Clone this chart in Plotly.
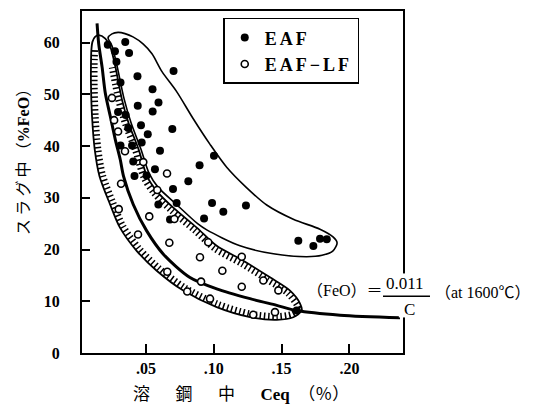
import math
import plotly.graph_objects as go

# ---------------- data ----------------
eaf_x = [0.0218, 0.0347, 0.0375, 0.0271, 0.0282, 0.0437, 0.0703, 0.0312, 0.0548, 0.0592,
         0.0439, 0.0549, 0.0294, 0.0350, 0.0369, 0.0463, 0.0513, 0.0694, 0.0312, 0.0397,
         0.0468, 0.0603, 0.1001, 0.0895, 0.0406, 0.0415, 0.0566, 0.0504, 0.0812, 0.0699,
         0.0591, 0.0726, 0.0987, 0.1237, 0.0928, 0.1070, 0.0677, 0.1623, 0.1734, 0.1783,
         0.1833, 0.1611]
eaf_y = [59.6, 60.1, 58.0, 58.3, 56.3, 53.5, 54.5, 52.3, 51.0, 48.4,
         47.8, 46.7, 46.6, 46.0, 43.5, 44.0, 42.3, 43.3, 40.1, 40.1,
         40.7, 39.1, 38.1, 36.3, 37.0, 34.2, 35.5, 34.3, 33.2, 31.7,
         28.7, 29.0, 29.0, 28.5, 26.0, 27.3, 25.8, 21.7, 20.7, 22.1,
         22.0, 8.2]

lf_x = [0.0249, 0.0265, 0.0294, 0.0345, 0.0480, 0.0655, 0.0316, 0.0583, 0.0299, 0.0524,
        0.0709, 0.0441, 0.0672, 0.0959, 0.0898, 0.1206, 0.0657, 0.1063, 0.1365, 0.1476,
        0.1206, 0.0804, 0.0906, 0.0972, 0.1291, 0.1451]
lf_y = [49.3, 45.0, 42.8, 39.0, 36.9, 34.7, 32.7, 31.5, 27.8, 26.4,
        25.9, 22.9, 21.3, 21.4, 18.5, 18.6, 15.7, 15.9, 14.0, 12.1,
        12.8, 11.9, 13.8, 10.5, 7.4, 7.9]

# (FeO) = 0.011 / C curve as drawn
curve_x = [0.0139, 0.0151, 0.0176, 0.0200, 0.0237, 0.0274, 0.0310, 0.0334, 0.0406, 0.0505,
           0.0628, 0.0824, 0.1021, 0.1267, 0.1464, 0.1611, 0.1931, 0.2373]
curve_y = [63.7, 59.8, 55.3, 50.2, 45.7, 41.2, 37.4, 34.2, 28.7, 23.6,
           19.1, 14.6, 12.4, 10.5, 9.2, 8.2, 7.3, 6.8]

# EAF-LF envelope (hatched)
lf_env_x = [0.0200, 0.0151, 0.0124, 0.0105, 0.0097, 0.0094, 0.0094, 0.0102, 0.0122, 0.0157,
            0.0235, 0.0308, 0.0431, 0.0579, 0.0775, 0.1021, 0.1267, 0.1464, 0.1586, 0.1648,
            0.1636, 0.1562, 0.1414, 0.1218, 0.1021, 0.0874, 0.0701, 0.0579, 0.0507, 0.0446,
            0.0372, 0.0323, 0.0274, 0.0237, 0.0200]
lf_env_y = [60.77, 61.42, 61.10, 60.13, 58.54, 55.33, 52.12, 45.71, 39.31, 34.17,
            28.73, 24.23, 19.75, 15.90, 12.06, 8.85, 6.92, 6.42, 6.92, 8.21,
            9.56, 12.06, 14.62, 17.83, 20.71, 24.23, 28.08, 31.29, 34.17, 39.31,
            44.42, 48.92, 55.33, 59.17, 60.77]

# EAF envelope
eaf_env_x = [0.0220, 0.0249, 0.0294, 0.0345, 0.0404, 0.0478, 0.0544, 0.0618, 0.0726, 0.0847,
             0.0972, 0.1095, 0.1243, 0.1390, 0.1586, 0.1783, 0.1879, 0.1909, 0.1879, 0.1798,
             0.1685, 0.1439, 0.1193, 0.0948, 0.0883, 0.0714, 0.0588, 0.0522, 0.0463, 0.0389,
             0.0338, 0.0286, 0.0249, 0.0220]
eaf_env_y = [60.90, 61.67, 61.96, 61.73, 61.10, 59.75, 57.83, 54.37, 50.52, 45.33,
             40.33, 35.90, 31.92, 28.60, 25.85, 23.92, 22.44, 21.29, 19.75, 18.88,
             18.60, 19.17, 20.71, 23.79, 24.94, 28.98, 32.06, 34.75, 39.37, 44.56,
             49.17, 55.52, 59.37, 60.90]

x_tickvals = [0.05, 0.10, 0.15, 0.20]
x_ticktext = [".05", ".10", ".15", ".20"]
y_tickvals = [0, 10, 20, 30, 40, 50, 60]

# ---------------- layout constants ----------------
W, H = 543, 412
ML, MR, MT, MB = 82, 140, 9, 59
PW, PH = W - ML - MR, H - MT - MB
X0, X1 = 0.0028, 0.2395
Y0, Y1 = 0.0, 66.1


def inward_offset(xs, ys, d):
    """offset a polyline by d pixels to the right of its direction (screen space)"""
    sx = PW / (X1 - X0)
    sy = PH / (Y1 - Y0)
    px = [(x - X0) * sx for x in xs]
    py = [(Y1 - y) * sy for y in ys]
    ox, oy = [], []
    n = len(px)
    for i in range(n):
        a = max(i - 1, 0)
        b = min(i + 1, n - 1)
        tx, ty = px[b] - px[a], py[b] - py[a]
        L = math.hypot(tx, ty) or 1.0
        nx, ny = ty / L, -tx / L
        qx, qy = px[i] + d * nx, py[i] + d * ny
        ox.append(qx / sx + X0)
        oy.append(Y1 - qy / sy)
    return ox, oy


idx = [i for i, y in enumerate(lf_env_y) if y < 59.0]
hx, hy = inward_offset([lf_env_x[i] for i in idx], [lf_env_y[i] for i in idx], 3.4)

fig = go.Figure()

fig.add_trace(go.Scatter(x=eaf_env_x, y=eaf_env_y, mode="lines", line=dict(color="black", width=1.6, shape="spline", smoothing=0.8),
                         showlegend=False, hoverinfo="skip"))
fig.add_trace(go.Scatter(x=hx, y=hy, mode="lines", line=dict(color="black", width=6.5, dash="1.5px,2.7px", shape="spline", smoothing=0.8),
                         showlegend=False, hoverinfo="skip"))
fig.add_trace(go.Scatter(x=lf_env_x, y=lf_env_y, mode="lines", line=dict(color="black", width=1.8, shape="spline", smoothing=0.8),
                         showlegend=False, hoverinfo="skip"))
fig.add_trace(go.Scatter(x=curve_x, y=curve_y, mode="lines", line=dict(color="black", width=3, shape="spline", smoothing=0.8),
                         showlegend=False, hoverinfo="skip"))

fig.add_trace(go.Scatter(x=eaf_x, y=eaf_y, mode="markers",
                         name='<span style="letter-spacing:3px"><b>EAF</b></span>',
                         marker=dict(symbol="circle", size=8, color="black", line=dict(width=0))))
fig.add_trace(go.Scatter(x=lf_x, y=lf_y, mode="markers",
                         name='<span style="letter-spacing:3px"><b>EAF−LF</b></span>',
                         marker=dict(symbol="circle", size=7, color="white", line=dict(width=1.6, color="black"))))

tickfont = dict(family="Liberation Serif", size=16, color="black", weight="bold")
axis_common = dict(showline=True, linecolor="black", linewidth=2, mirror=True, ticks="inside",
                   tickcolor="black", tickwidth=1.5, showgrid=False, zeroline=False, tickfont=tickfont)

fig.update_layout(
    width=W, height=H,
    margin=dict(l=ML, r=MR, t=MT, b=MB),
    paper_bgcolor="white", plot_bgcolor="white",
    xaxis=dict(range=[X0, X1], tickvals=x_tickvals, ticktext=x_ticktext, ticklen=9,
               ticklabelstandoff=0, **axis_common),
    yaxis=dict(range=[Y0, Y1], tickvals=y_tickvals, ticklen=8, ticklabelstandoff=17, **axis_common),
    legend=dict(x=0.44, y=0.98, xanchor="left", yanchor="top", bordercolor="black", borderwidth=1.5,
                bgcolor="white", font=dict(family="Liberation Serif", size=18, color="black"),
                tracegroupgap=0, itemwidth=30),
    showlegend=True,
)

cjk = "Liberation Serif, Noto Sans CJK JP"


def note(text, x, y, size=16, angle=0):
    fig.add_annotation(text=text, xref="paper", yref="paper", x=x, y=y, xanchor="center", yanchor="middle",
                       textangle=angle, showarrow=False, font=dict(family=cjk, size=size, color="black"))


note("ス\u2009ラ\u2009グ\u2009中\u2009（<b>%FeO</b>）", -0.184, 0.57, 16, -90)
note("溶\u3000\u2002鋼\u3000\u2002中\u3000\u2002<b>Ceq</b>\u2002（％）", 0.494, -0.122, 17)

fig.add_shape(type="rect", xref="paper", yref="paper", x0=0.987, x1=1.016, y0=0.104, y1=0.2326,
              fillcolor="white", line=dict(width=0), layer="above")
fig.add_shape(type="line", xref="paper", yref="paper", x0=0.9377, x1=1.0841, y0=0.1657, y1=0.1657,
              line=dict(color="black", width=1.5), layer="above")
note("（FeO）＝", 0.8193, 0.1831, 16)
note("0.011", 1.0047, 0.2044, 17)
note("C", 1.0187, 0.128, 17)
note("（at 1600℃）", 1.2477, 0.1782, 16)

fig.write_html("out.html")
